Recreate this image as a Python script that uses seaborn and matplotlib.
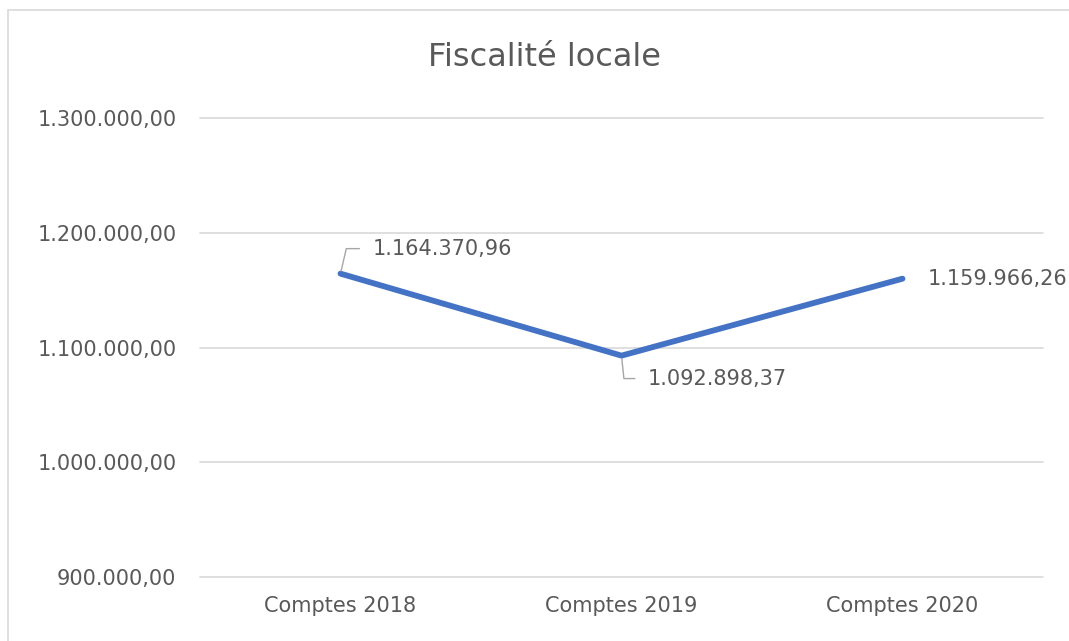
import pandas as pd
import seaborn as sns
import matplotlib.pyplot as plt
from matplotlib.patches import Rectangle


categories = ['Comptes 2018', 'Comptes 2019', 'Comptes 2020']
values = [1164370.96, 1092898.37, 1159966.26]
y_ticks = [900000, 1000000, 1100000, 1200000, 1300000]
title = 'Fiscalité locale'


def fmt(v):
  s = '{:,.2f}'.format(v)
  return s.replace(',', ' ').replace('.', ',').replace(' ', '.')


sns.set_style('white')
plt.rcParams['font.family'] = ['DejaVu Sans']
text_col = '#595959'
grid_col = '#D9D9D9'

fig = plt.figure(figsize=(10.69, 6.41), dpi=100)
W, H = 1069, 641
ax = fig.add_axes([200 / W, (H - 577) / H, 843 / W, 459 / H])

df = pd.DataFrame({'cat': categories, 'val': values})
sns.lineplot(data=df, x='cat', y='val', ax=ax, color='#4472C4', lw=4.2,
             solid_capstyle='round', solid_joinstyle='round', sort=False)

ax.set_xlim(-0.5, len(categories) - 0.5)
ax.set_ylim(y_ticks[0], y_ticks[-1])
ax.set_yticks(y_ticks)
ax.set_yticklabels([fmt(t) for t in y_ticks])
ax.set_xlabel('')
ax.set_ylabel('')
ax.grid(axis='y', color=grid_col, lw=1.2)
for gl in ax.get_ygridlines():
  gl.set_clip_on(False)
ax.set_axisbelow(True)
for sp in ax.spines.values():
  sp.set_visible(False)
ax.tick_params(axis='y', length=0, pad=17, labelsize=15, labelcolor=text_col)
ax.tick_params(axis='x', length=0, pad=14, labelsize=15, labelcolor=text_col)

# data labels with leader lines
offsets = [(23, 18), (19, -16.5), (18, 0)]
angles = [77, -84, None]
for i, (v, off, ang) in enumerate(zip(values, offsets, angles)):
  if ang is None:
    ax.annotate(fmt(v), xy=(i, v), xytext=off, textcoords='offset points',
                ha='left', va='center', fontsize=15, color=text_col)
  else:
    ax.annotate(fmt(v), xy=(i, v), xytext=off, textcoords='offset points',
                ha='left', va='center', fontsize=15, color=text_col,
                arrowprops=dict(arrowstyle='-', color='#A6A6A6', lw=1,
                                relpos=(0, 0.5), shrinkA=7, shrinkB=2,
                                connectionstyle='angle,angleA=0,angleB=%d,rad=0' % ang))

fig.text(545 / W, 1 - 57 / H, title, ha='center', va='center', fontsize=23, color=text_col)

# chart area border
fig.add_artist(Rectangle((8 / W, -0.1), 1.2, 1 - 10 / H + 0.1, transform=fig.transFigure,
                         fill=False, edgecolor=grid_col, lw=1.2))

fig.savefig('out.png', dpi=100)
